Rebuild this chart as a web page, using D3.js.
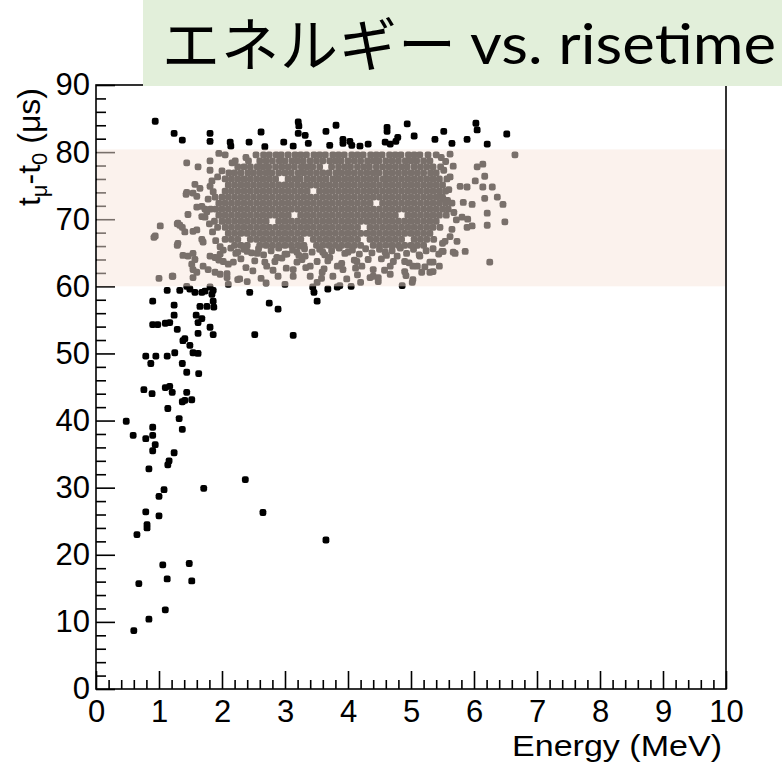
<!DOCTYPE html>
<html><head><meta charset="utf-8">
<script src="https://cdn.jsdelivr.net/npm/d3@7"></script>
<style>html,body{margin:0;padding:0;background:#fff;} svg{display:block;}</style>
</head><body>
<script>
// ---------- texts ----------
const titleJP = "エネルギー";
const titleEN = "vs. risetime";
const xTitle = "Energy (MeV)";
const xTickValues = [0,1,2,3,4,5,6,7,8,9,10];
const yTickValues = [0,10,20,30,40,50,60,70,80,90];
const bandRange = [60, 80.4];

// ---------- data: [Energy MeV, t_mu - t_0 us] ----------
// isolated events outside the 60-80 us window
const outlierPoints = [
 [0.94,84.6],[1.24,82.8],[1.37,81.8],[1.81,82.8],[1.81,81.6],[2.13,81.5],[2.14,80.9],[2.43,81.5],[2.62,83.0],[2.98,81.5],
 [3.21,84.5],[3.22,83.9],[3.21,82.8],[3.32,82.5],[3.37,81.3],[3.65,83.1],[3.81,84.0],[3.92,81.9],[4.03,81.6],[3.92,81.3],
 [4.06,81.0],[4.19,80.9],[4.32,81.2],[4.62,83.7],[4.62,83.1],[4.59,81.5],[4.67,81.2],[4.76,81.6],[4.79,82.2],[4.94,84.2],
 [5.05,82.4],[5.38,81.9],[5.52,83.1],[5.65,81.3],[5.89,81.9],[6.03,84.3],[6.05,83.3],[6.21,81.2],[6.52,82.7],
 [2.68,80.8],[3.13,80.9],[3.71,81.0],
 [1.13,59.4],[1.33,59.4],[1.44,60.0],[1.49,59.6],[1.57,59.1],[1.68,59.1],[1.73,59.3],[1.81,59.9],[1.86,59.4],[1.84,58.8],
 [0.90,57.8],[1.24,57.2],[1.65,57.0],[1.76,57.0],[1.87,56.9],[1.86,57.8],[2.44,59.1],[2.75,57.5],[2.89,56.6],[1.24,55.7],
 [1.59,55.7],[1.68,55.2],[1.62,54.6],[0.90,54.3],[0.98,54.3],[1.10,54.5],[1.17,54.6],[1.29,53.6],[1.81,53.9],[1.86,52.8],
 [1.62,53.0],[2.52,52.8],[3.13,52.7],[1.41,52.2],[1.38,51.9],[1.49,51.2],[1.54,50.1],[1.62,50.0],[0.79,49.6],[0.95,49.6],
 [1.13,49.6],[1.25,50.1],[0.87,48.5],[1.37,48.5],[1.44,47.2],[1.63,47.0],[0.76,44.6],[0.89,44.0],[1.10,44.9],[1.17,45.1],
 [1.21,44.2],[1.44,44.2],[1.37,42.8],[1.41,43.0],[1.52,43.1],[1.14,41.8],[1.32,40.3],[1.37,38.7],[0.48,39.9],[0.59,37.8],
 [0.79,37.3],[0.90,39.0],[0.90,37.8],[0.94,36.4],[0.90,35.5],[1.24,35.2],[1.16,34.0],[1.14,33.4],[0.84,32.8],[2.37,31.2],
 [1.08,29.7],[1.00,28.7],[1.71,29.9],[0.79,26.4],[1.00,25.8],[2.65,26.3],[0.81,24.5],[0.81,24.0],[0.65,23.0],[1.06,18.5],
 [1.48,18.7],[0.68,15.7],[1.13,16.4],[1.52,16.1],[1.10,11.8],[0.84,10.4],[0.60,8.7],[3.65,22.2],
 [3.44,59.9],[3.46,59.1],[3.51,57.8],[3.68,59.6],[3.83,59.9],[3.87,60.1],[4.05,60.0],[4.86,60.1],[2.10,60.3]
];

// scattered events inside the window, around the dense core
const haloPoints = [
 // left side
 [1.44,78.4],[1.62,77.8],[1.44,74.0],[1.54,73.9],[1.30,69.4],[1.33,69.1],[1.46,70.7],[1.02,69.0],[0.94,67.5],[1.30,66.4],
 [1.41,68.1],[1.22,61.5],[1.60,71.8],[1.68,71.9],[1.73,71.5],[1.60,73.4],[1.95,79.8],[1.81,78.7],[1.81,77.3],[1.57,75.2],
 [1.43,73.7],[1.65,74.6],[1.84,75.7],[1.81,74.9],[1.68,70.4],[1.73,70.3],[1.29,69.3],[1.37,68.8],[0.92,67.3],[1.54,68.2],
 [1.60,68.4],[1.29,66.1],[1.68,67.0],[1.70,66.6],[2.00,77.2],[1.93,76.3],[1.86,74.1],[1.78,73.0],[1.76,71.1],[1.80,69.3],
 [1.85,68.1],[1.90,66.8],[1.97,65.9],[2.38,79.2],[2.16,78.4],
 // lower part of the window
 [1.38,64.6],[1.46,64.5],[1.54,64.9],[1.57,64.0],[1.52,63.3],[1.54,62.5],[1.60,62.1],[1.54,61.3],[1.70,63.0],[1.78,62.5],
 [1.89,62.1],[1.97,61.8],[2.08,61.9],[2.08,61.3],[1.21,61.5],[1.00,61.2],[2.25,61.0],[2.40,60.7],[1.81,64.5],[1.89,64.3],
 [1.97,64.8],[2.02,63.7],[2.10,63.3],[2.25,65.1],[2.40,65.2],[2.56,64.9],[2.68,63.6],[2.87,64.3],[3.03,64.8],[2.89,61.5],
 [2.71,63.0],[3.13,62.5],[3.19,65.1],[3.24,66.0],[3.32,64.5],[3.19,63.6],[3.40,63.0],[3.51,63.7],[3.59,62.1],[3.40,61.5],
 [3.60,65.1],[3.71,64.3],[3.83,63.0],[3.76,61.5],[3.92,62.5],[4.00,65.1],[4.14,63.7],[4.22,63.0],[4.32,64.0],[4.40,62.5],
 [4.35,61.3],[4.48,61.3],[4.59,65.1],[4.67,63.0],[4.78,64.5],[4.90,63.7],[4.90,62.2],[5.03,63.0],[5.14,64.5],[5.17,62.1],
 [5.02,60.6],[4.48,60.7],[3.51,60.6],[3.13,61.5],[5.35,62.2],[5.10,63.0],[5.03,61.0],[4.67,61.8],[4.40,61.5],[5.45,63.0],
 [2.02,65.4],[2.14,65.7],[2.22,64.9],[2.35,65.5],[2.47,65.0],[2.58,65.6],[2.66,64.7],[2.78,65.3],[2.90,65.7],[3.00,64.8],
 [3.12,65.4],[3.22,64.6],[3.31,65.6],[3.43,65.1],[3.55,65.5],[3.63,64.7],[3.74,65.3],[3.86,65.7],[3.95,64.9],[4.07,65.4],
 [4.18,64.8],[4.28,65.6],[4.38,65.0],[4.50,65.5],[4.61,64.6],[4.70,65.3],[4.83,65.7],[4.93,64.9],[5.04,65.5],[5.13,64.7],
 [5.24,65.3],[5.35,65.6],[5.44,64.8],
 [1.95,63.9],[2.18,63.6],[2.30,64.1],[2.52,63.8],[2.84,63.7],[2.95,64.2],[3.27,64.0],[3.68,63.8],[3.90,63.4],[4.10,63.9],
 [4.53,64.1],[4.72,63.7],[4.97,63.5],[5.30,63.6],[2.38,62.8],[2.49,62.3],[2.81,62.4],[3.02,62.7],[3.33,62.8],[3.62,62.6],
 [4.12,62.7],[4.58,62.4],[5.22,62.9],[2.28,61.1],[2.62,61.2],[3.58,61.2],[3.98,61.1],[4.15,61.7],[4.92,61.6],[2.70,60.5],
 [3.00,60.3],[4.20,60.6],
 // right side and tail
 [5.67,65.1],[5.51,65.2],[5.86,65.2],[6.25,63.6],[5.35,63.6],[5.30,62.1],
 [5.67,77.9],[5.57,76.0],[5.62,76.3],[5.78,74.9],[5.89,74.8],[6.02,75.7],[6.14,78.2],[6.05,77.8],[6.17,76.4],[6.14,74.8],
 [6.29,74.8],[6.17,73.1],[6.37,73.3],[6.46,72.2],[5.97,72.2],[5.83,72.5],[5.59,71.5],[6.21,70.9],[6.49,69.6],[6.21,69.1],
 [5.81,70.3],[5.90,70.0],[5.97,69.0],[5.89,68.8],[5.65,68.5],[5.73,66.7],[5.54,66.7],[5.49,65.2],[5.70,64.9],[6.65,79.6],
 [5.46,73.4],[5.51,73.0],[5.55,78.6],[5.62,79.7],[5.52,77.3],[5.60,74.4],[5.68,71.0],[5.72,69.9],[5.62,67.4],[5.50,66.4],
 [5.48,79.2],[5.58,72.8]
];

// dense core: one row of energies per time value
const coreRowT = [79.6,78.7,77.8,76.9,76.0,75.1,74.2,73.3,72.4,71.5,70.6,69.7,68.8,67.9,67.0,66.1];
const coreRowE = [
 [2.05,2.54,2.66,2.75,2.86,2.94,3.05,3.16,3.25,3.34,3.46,3.55,3.64,3.76,3.85,3.94,4.06,4.15,4.24,4.36,4.45,4.54,4.66,4.75,4.84,4.96,5.05,5.14,5.27,5.40],
 [2.21,2.42,2.60,2.70,2.80,2.91,3.00,3.11,3.20,3.29,3.40,3.50,3.60,3.71,3.80,3.89,4.00,4.10,4.20,4.31,4.40,4.49,4.60,4.70,4.80,4.91,5.00,5.09,5.20,5.30],
 [2.25,2.35,2.45,2.56,2.65,2.74,2.85,2.95,3.05,3.15,3.26,3.35,3.44,3.55,3.74,3.85,3.95,4.04,4.15,4.25,4.34,4.45,4.55,4.65,4.75,4.85,4.94,5.05,5.15,5.25,5.35,5.47],
 [2.11,2.20,2.30,2.41,2.50,2.60,2.70,2.79,2.90,3.00,3.10,3.21,3.30,3.40,3.50,3.60,3.70,3.81,3.90,4.00,4.10,4.20,4.30,4.40,4.49,4.60,4.70,4.80,4.90,5.00,5.10,5.20,5.31,5.40],
 [2.05,2.15,2.25,2.35,2.45,2.55,2.65,2.75,2.85,3.05,3.15,3.24,3.35,3.45,3.55,3.65,3.76,3.85,3.95,4.05,4.15,4.25,4.35,4.45,4.56,4.65,4.75,4.85,4.95,5.05,5.15,5.25,5.35,5.45],
 [2.10,2.20,2.30,2.40,2.50,2.60,2.70,2.80,2.90,3.00,3.10,3.20,3.30,3.40,3.50,3.60,3.70,3.80,3.90,4.00,4.10,4.20,4.30,4.40,4.50,4.60,4.70,4.80,4.90,5.00,5.10,5.20,5.30,5.40,5.50],
 [2.05,2.15,2.25,2.35,2.45,2.55,2.65,2.75,2.85,2.95,3.05,3.15,3.25,3.35,3.55,3.65,3.75,3.85,3.95,4.05,4.15,4.25,4.35,4.45,4.55,4.65,4.75,4.85,4.95,5.05,5.15,5.25,5.35,5.45,5.55],
 [1.89,2.00,2.10,2.20,2.30,2.40,2.50,2.60,2.70,2.80,2.90,3.00,3.10,3.20,3.30,3.40,3.50,3.60,3.70,3.80,3.90,4.00,4.10,4.20,4.30,4.40,4.50,4.60,4.70,4.80,4.90,5.00,5.10,5.20,5.30,5.40,5.50],
 [1.95,2.05,2.15,2.25,2.35,2.45,2.55,2.65,2.75,2.85,2.95,3.05,3.15,3.25,3.35,3.45,3.55,3.65,3.75,3.85,3.95,4.05,4.15,4.25,4.35,4.55,4.65,4.75,4.85,4.95,5.05,5.15,5.25,5.35,5.45,5.55,5.65],
 [1.82,1.90,2.00,2.10,2.20,2.30,2.40,2.50,2.60,2.70,2.80,2.90,3.00,3.10,3.20,3.30,3.40,3.50,3.60,3.70,3.80,3.90,4.00,4.10,4.20,4.30,4.40,4.50,4.60,4.70,4.80,4.90,5.00,5.10,5.20,5.30,5.40,5.50],
 [1.95,2.05,2.15,2.25,2.35,2.45,2.55,2.65,2.75,2.85,2.95,3.05,3.25,3.35,3.45,3.55,3.65,3.75,3.85,3.95,4.05,4.15,4.25,4.35,4.45,4.55,4.65,4.75,4.95,5.05,5.15,5.25,5.35,5.45,5.56],
 [1.88,2.00,2.10,2.20,2.30,2.40,2.50,2.60,2.70,2.90,3.00,3.10,3.20,3.30,3.40,3.50,3.60,3.70,3.80,3.90,4.00,4.10,4.20,4.30,4.40,4.50,4.60,4.70,4.80,4.90,5.00,5.10,5.20,5.30,5.40],
 [1.93,2.05,2.15,2.25,2.35,2.45,2.55,2.65,2.75,2.85,2.95,3.05,3.15,3.25,3.35,3.45,3.55,3.65,3.75,3.85,3.95,4.05,4.15,4.35,4.45,4.55,4.65,4.75,4.85,4.95,5.05,5.15,5.25,5.35,5.46],
 [2.10,2.20,2.30,2.40,2.50,2.60,2.70,2.80,2.90,3.00,3.10,3.20,3.30,3.40,3.50,3.60,3.70,3.80,3.90,4.00,4.10,4.20,4.30,4.40,4.50,4.60,4.70,4.80,4.90,5.00,5.10,5.20,5.30],
 [2.05,2.15,2.25,2.45,2.55,2.65,2.75,2.85,2.95,3.05,3.15,3.25,3.45,3.55,3.65,3.75,3.85,3.95,4.05,4.15,4.35,4.45,4.55,4.65,4.75,4.85,5.05,5.15,5.25,5.36],
 [2.20,2.30,2.40,2.60,2.70,2.80,2.90,3.00,3.10,3.20,3.30,3.50,3.60,3.70,3.80,3.90,4.00,4.10,4.20,4.40,4.50,4.60,4.70,4.80,4.90,5.00,5.10,5.20]
];

// ---------- chart ----------
const W = 782, H = 762;
const x = d3.scaleLinear().domain([0, 10]).range([96, 726]);
const y = d3.scaleLinear().domain([0, 90]).range([689, 85]);
const FONT = "'Liberation Sans', Arial, Helvetica, sans-serif";
const MS = 6.8; // marker size in px

const svg = d3.select("body").append("svg").attr("width", W).attr("height", H);

const corePoints = coreRowT.flatMap((t, i) => coreRowE[i].map(e => [e, t]));
const allPoints = [...corePoints, ...haloPoints, ...outlierPoints];

svg.append("g").selectAll("rect").data(allPoints).join("rect")
  .attr("x", d => x(d[0]) - MS / 2).attr("y", d => y(d[1]) - MS / 2)
  .attr("width", MS).attr("height", MS).attr("rx", 2.2).attr("ry", 2.2).attr("fill", "#000");

// ticks (drawn before the band so it tints them)
const yMinor = d3.range(0, 91, 2).filter(v => v % 10 !== 0);
const xMinor = d3.range(0, 50, 1).map(v => v / 5).filter(v => Math.abs(v - Math.round(v)) > 1e-6);
function tickGroup(axis) {
  return g => { g.call(axis); g.select(".domain").remove(); g.selectAll("line").attr("stroke", "#000").attr("stroke-width", 1.6); };
}
svg.append("g").attr("transform", "translate(96,0)")
  .call(tickGroup(d3.axisLeft(y).tickValues(yTickValues).tickSize(-19).tickFormat("")));
svg.append("g").attr("transform", "translate(96,0)")
  .call(tickGroup(d3.axisLeft(y).tickValues(yMinor).tickSize(-10).tickFormat("")));
svg.append("g").attr("transform", "translate(0,689)")
  .call(tickGroup(d3.axisBottom(x).tickValues(xTickValues).tickSize(-18).tickFormat("")));
svg.append("g").attr("transform", "translate(0,689)")
  .call(tickGroup(d3.axisBottom(x).tickValues(xMinor).tickSize(-9).tickFormat("")));

// band (semi-transparent)
svg.append("rect")
  .attr("x", x(0) + 1).attr("width", x(10) - x(0) - 2)
  .attr("y", y(bandRange[1])).attr("height", y(bandRange[0]) - y(bandRange[1]))
  .attr("fill", "#f7e4da").attr("fill-opacity", 0.49);

// frame
svg.append("rect").attr("x", x(0)).attr("y", y(90)).attr("width", x(10) - x(0)).attr("height", y(0) - y(90))
  .attr("fill", "none").attr("stroke", "#000").attr("stroke-width", 1.6);

// tick labels
const yl = svg.append("g").attr("transform", "translate(96,0)")
  .call(d3.axisLeft(y).tickValues(yTickValues).tickSize(0).tickPadding(6).tickFormat(d3.format("d")));
yl.select(".domain").remove();
yl.attr("font-family", FONT).attr("font-size", 31);
yl.selectAll("text").attr("fill", "#000");

const xl = svg.append("g").attr("transform", "translate(0,689)")
  .call(d3.axisBottom(x).tickValues(xTickValues).tickSize(0).tickPadding(11).tickFormat(d3.format("d")));
xl.select(".domain").remove();
xl.attr("font-family", FONT).attr("font-size", 31);
xl.selectAll("text").attr("fill", "#000");

// axis titles
svg.append("text").attr("x", 722).attr("y", 756).attr("text-anchor", "end")
  .attr("font-family", FONT).attr("font-size", 30)
  .attr("textLength", 210).attr("lengthAdjust", "spacingAndGlyphs").text(xTitle);

const yt = svg.append("text").attr("transform", "translate(40,88) rotate(-90)")
  .attr("text-anchor", "end").attr("font-family", FONT).attr("font-size", 32);
yt.append("tspan").text("t");
yt.append("tspan").attr("dy", 7).attr("font-size", 22).text("μ");
yt.append("tspan").attr("dy", -7).text("-t");
yt.append("tspan").attr("dy", 7).attr("font-size", 22).text("0");
yt.append("tspan").attr("dy", -7).text(" (μs)");

// title box
svg.append("rect").attr("x", 143).attr("y", 0).attr("width", W - 143).attr("height", 86).attr("fill", "#e2efda");
svg.append("text").attr("x", 162).attr("y", 66)
  .attr("font-family", "'Noto Sans CJK JP', sans-serif").attr("font-size", 58).attr("fill", "#000")
  .attr("textLength", 294).attr("lengthAdjust", "spacing").text(titleJP);
svg.append("text").attr("x", 470).attr("y", 64)
  .attr("font-family", "Lato, 'Open Sans', sans-serif").attr("font-size", 56).attr("fill", "#000")
  .attr("textLength", 306).attr("lengthAdjust", "spacingAndGlyphs").text(titleEN);
</script>
</body></html>
